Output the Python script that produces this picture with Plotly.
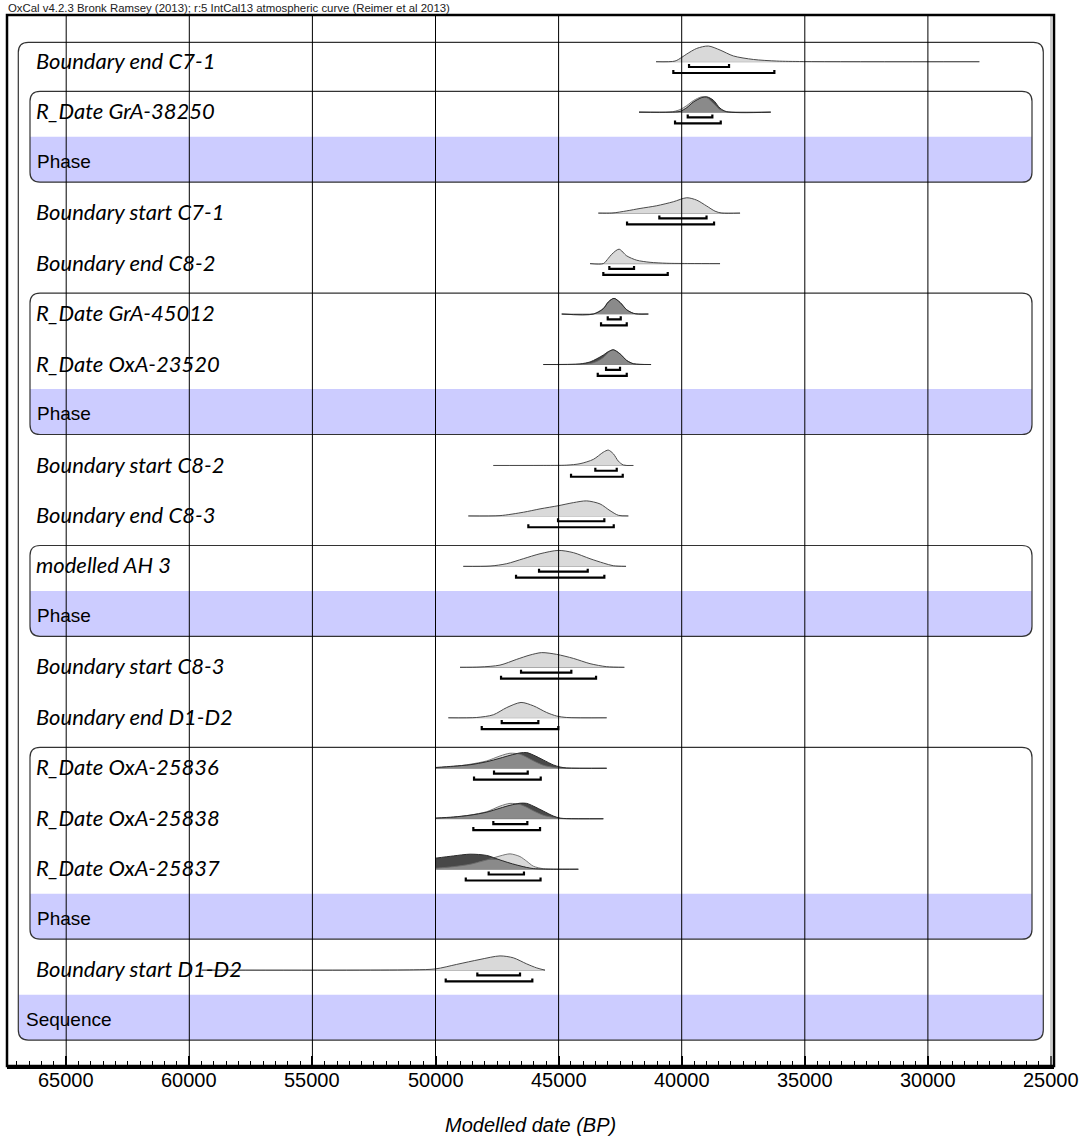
import plotly.graph_objects as go

TITLE = "OxCal v4.2.3 Bronk Ramsey (2013); r:5 IntCal13 atmospheric curve (Reimer et al 2013)"
AXIS_TITLE = "Modelled date (BP)"

row_labels = [
    "Boundary end C7-1", "R_Date GrA-38250", "Phase",
    "Boundary start C7-1", "Boundary end C8-2",
    "R_Date GrA-45012", "R_Date OxA-23520", "Phase",
    "Boundary start C8-2", "Boundary end C8-3",
    "modelled AH 3", "Phase",
    "Boundary start C8-3", "Boundary end D1-D2",
    "R_Date OxA-25836", "R_Date OxA-25838", "R_Date OxA-25837", "Phase",
    "Boundary start D1-D2", "Sequence",
]
tick_years = [65000, 60000, 55000, 50000, 45000, 40000, 35000, 30000, 25000]

# phases as (first row, last row); the last row carries the "Phase" label
phase_rows = [(1, 2), (5, 7), (10, 11), (14, 17)]
sequence_rows = (0, 19)

# ---- probability distributions (years BP, relative probability) ----
# Boundary end C7-1
end_c71_yr = [41042, 40271, 39998, 39795, 39389, 38918, 38443, 37902, 37090, 36139, 35059, 27910]
end_c71_p = [0, 0.04, 0.27, 0.48, 0.83, 0.98, 0.73, 0.36, 0.14, 0.04, 0.01, 0]
end_c71_r68 = [39702, 38077]
end_c71_r95 = [40340, 36237]

# R_Date GrA-38250 (unmodelled likelihood / modelled posterior)
gra38250_yr = [41733, 40474, 40068, 39796, 39527, 39186, 38983, 38715, 38443, 38171, 36383]
gra38250_unmod = [0, 0, 0.16, 0.41, 0.72, 0.96, 0.91, 0.56, 0.16, 0.02, 0]
gra38250_mod = [0, 0, 0.05, 0.28, 0.63, 0.91, 0.96, 0.75, 0.25, 0.03, 0]
gra38250_r68 = [39755, 38755]
gra38250_r95 = [40271, 38414]

# Boundary start C7-1
start_c71_yr = [43386, 42842, 42232, 41692, 41014, 40339, 39795, 39389, 38983, 38645, 38373, 37630]
start_c71_p = [0, 0, 0.14, 0.29, 0.46, 0.71, 0.96, 0.81, 0.44, 0.12, 0, 0]
start_c71_r68 = [40908, 38991]
start_c71_r95 = [42220, 38686]

# Boundary end C8-2
end_c82_yr = [43723, 43183, 42980, 42842, 42546, 42232, 41826, 41286, 40608, 39661, 38443]
end_c82_p = [0, 0, 0.33, 0.58, 0.9, 0.48, 0.21, 0.08, 0.02, 0.005, 0]
end_c82_r68 = [42939, 41936]
end_c82_r95 = [43183, 40567]

# R_Date GrA-45012
gra45012_yr = [44873, 43589, 43183, 42980, 42749, 42505, 42232, 41964, 41761, 41355]
gra45012_unmod = [0, 0, 0.36, 0.77, 0.98, 0.71, 0.25, 0.04, 0, 0]
gra45012_mod = [0, 0, 0.33, 0.75, 0.98, 0.73, 0.27, 0.05, 0, 0]
gra45012_r68 = [43004, 42476]
gra45012_r95 = [43276, 42232]

# R_Date OxA-23520
oxa23520_yr = [45620, 44130, 43723, 43451, 43183, 42980, 42777, 42505, 42232, 41964, 41692, 41245]
oxa23520_unmod = [0, 0.01, 0.06, 0.19, 0.44, 0.75, 0.92, 0.66, 0.25, 0.05, 0.01, 0]
oxa23520_mod = [0, 0.04, 0.16, 0.36, 0.59, 0.81, 0.92, 0.67, 0.25, 0.05, 0.01, 0]
oxa23520_r68 = [43073, 42505]
oxa23520_r95 = [43410, 42232]

# Boundary start C8-2
start_c82_yr = [47651, 45754, 44670, 44130, 43589, 43183, 42980, 42777, 42574, 42371, 41964]
start_c82_p = [0, 0.003, 0.02, 0.11, 0.38, 0.83, 0.96, 0.73, 0.27, 0.03, 0]
start_c82_r68 = [43508, 42639]
start_c82_r95 = [44495, 42395]

# Boundary end C8-3
end_c83_yr = [48667, 47379, 46433, 45754, 45011, 44402, 43858, 43317, 42911, 42574, 42167]
end_c83_p = [0, 0.02, 0.23, 0.44, 0.64, 0.83, 0.94, 0.75, 0.33, 0.04, 0]
end_c83_r68 = [45023, 43142]
end_c83_r95 = [46229, 42760]

# modelled AH 3
ah3_yr = [48870, 47785, 47107, 46433, 45754, 45011, 44402, 43723, 43183, 42777, 42261]
ah3_p = [0, 0.02, 0.17, 0.48, 0.79, 1.0, 0.86, 0.48, 0.21, 0.04, 0]
ah3_r68 = [45795, 43817]
ah3_r95 = [46729, 43142]

# Boundary start C8-3
start_c83_yr = [49004, 48192, 47379, 46701, 46161, 45686, 45077, 44402, 43723, 43047, 42330]
start_c83_p = [0, 0.02, 0.14, 0.5, 0.77, 0.92, 0.81, 0.56, 0.23, 0.04, 0]
start_c83_r68 = [46526, 44483]
start_c83_r95 = [47338, 43479]

# Boundary end D1-D2
end_d12_yr = [49479, 48326, 47651, 47107, 46526, 46026, 45482, 45077, 44670, 43047]
end_d12_p = [0, 0.02, 0.19, 0.64, 0.96, 0.75, 0.33, 0.11, 0.02, 0]
end_d12_r68 = [47310, 45823]
end_d12_r95 = [48122, 45011]

# R_Date OxA-25836
oxa25836_yr = [50000, 49276, 48597, 47920, 47379, 46973, 46567, 46295, 46026, 45620, 45214, 44942, 44670, 43047]
oxa25836_unmod = [0.02, 0.11, 0.25, 0.46, 0.77, 0.94, 0.88, 0.69, 0.47, 0.19, 0.06, 0.02, 0, 0]
oxa25836_mod = [0.05, 0.13, 0.22, 0.41, 0.63, 0.81, 0.96, 0.98, 0.83, 0.52, 0.21, 0.08, 0.02, 0]
oxa25836_r68 = [47623, 46254]
oxa25836_r95 = [48435, 45726]

# R_Date OxA-25838
oxa25838_yr = [50000, 49276, 48597, 47920, 47379, 46973, 46567, 46295, 46026, 45620, 45214, 44942, 44670, 43183]
oxa25838_unmod = [0.03, 0.09, 0.23, 0.44, 0.79, 0.96, 0.89, 0.72, 0.5, 0.22, 0.08, 0.02, 0, 0]
oxa25838_mod = [0.04, 0.11, 0.22, 0.41, 0.66, 0.84, 0.97, 0.96, 0.79, 0.48, 0.17, 0.04, 0.01, 0]
oxa25838_r68 = [47651, 46270]
oxa25838_r95 = [48463, 45754]

# R_Date OxA-25837
oxa25837_yr = [50000, 49276, 48597, 47920, 47379, 46973, 46567, 46295, 46026, 45620, 45214, 44198]
oxa25837_unmod = [0.06, 0.16, 0.31, 0.58, 0.83, 0.96, 0.79, 0.5, 0.19, 0.03, 0, 0]
oxa25837_mod = [0.69, 0.83, 0.94, 0.86, 0.58, 0.38, 0.21, 0.11, 0.04, 0.01, 0, 0]
oxa25837_r68 = [47840, 46407]
oxa25837_r95 = [48770, 45733]

# Boundary start D1-D2
start_d12_yr = [59500, 50900, 49991, 49138, 48192, 47379, 46838, 46295, 45889, 45551]
start_d12_p = [0, 0.02, 0.08, 0.36, 0.67, 0.89, 0.77, 0.39, 0.14, 0]
start_d12_r68 = [48301, 46567]
start_d12_r95 = [49585, 46067]

# row index -> (years, single/unmodelled, modelled or None, 68.2% range, 95.4% range)
rows = {
    0: (end_c71_yr, end_c71_p, None, end_c71_r68, end_c71_r95),
    1: (gra38250_yr, gra38250_unmod, gra38250_mod, gra38250_r68, gra38250_r95),
    3: (start_c71_yr, start_c71_p, None, start_c71_r68, start_c71_r95),
    4: (end_c82_yr, end_c82_p, None, end_c82_r68, end_c82_r95),
    5: (gra45012_yr, gra45012_unmod, gra45012_mod, gra45012_r68, gra45012_r95),
    6: (oxa23520_yr, oxa23520_unmod, oxa23520_mod, oxa23520_r68, oxa23520_r95),
    8: (start_c82_yr, start_c82_p, None, start_c82_r68, start_c82_r95),
    9: (end_c83_yr, end_c83_p, None, end_c83_r68, end_c83_r95),
    10: (ah3_yr, ah3_p, None, ah3_r68, ah3_r95),
    12: (start_c83_yr, start_c83_p, None, start_c83_r68, start_c83_r95),
    13: (end_d12_yr, end_d12_p, None, end_d12_r68, end_d12_r95),
    14: (oxa25836_yr, oxa25836_unmod, oxa25836_mod, oxa25836_r68, oxa25836_r95),
    15: (oxa25838_yr, oxa25838_unmod, oxa25838_mod, oxa25838_r68, oxa25838_r95),
    16: (oxa25837_yr, oxa25837_unmod, oxa25837_mod, oxa25837_r68, oxa25837_r95),
    18: (start_d12_yr, start_d12_p, None, start_d12_r68, start_d12_r95),
}

# ---- page geometry (pixels) ----
W, H = 1083, 1137
ML, MR, MT, MB = 7, 29, 15, 71
PX_65000, PX_PER_5000 = 66.2, 123.1
ROW0_PX, ROW_PX = 61.0, 50.47


def px2yr(px):
    return 65000 - (px - PX_65000) * 5000 / PX_PER_5000


def px2row(px):
    return (px - ROW0_PX) / ROW_PX


X_LEFT, X_RIGHT = px2yr(ML), px2yr(W - MR)
Y_BOTTOM, Y_TOP = px2row(H - MB), px2row(MT)
YR_PER_PX = 5000 / PX_PER_5000

PEAK = 16 / ROW_PX          # height of a full-probability peak, in rows
BASE_OFF = 0.7 / ROW_PX
B68_OFF = 5.3 / ROW_PX
B95_OFF = 11.3 / ROW_PX
TICK_UP = 3.0 / ROW_PX
RX, RY = 10 * YR_PER_PX, 10 / ROW_PX

LIGHT = "#d9d9d9"
DARK = "#484848"
MID = "#8a8a8a"

fig = go.Figure()


def filled(x, top, base, color):
    fig.add_trace(go.Scatter(x=[x[0], x[-1]], y=[base, base], mode="lines",
                             line=dict(width=0), hoverinfo="skip", showlegend=False))
    fig.add_trace(go.Scatter(x=x, y=top, mode="lines", fill="tonexty", fillcolor=color,
                             line=dict(width=0, shape="spline", smoothing=0.8),
                             hoverinfo="skip", showlegend=False))


def outline(x, top, color, width=1):
    fig.add_trace(go.Scatter(x=x, y=top, mode="lines",
                             line=dict(color=color, width=width, shape="spline", smoothing=0.8),
                             hoverinfo="skip", showlegend=False))


def bracket(rng, y):
    a, b = rng
    fig.add_trace(go.Scatter(x=[a, a, b, b], y=[y - TICK_UP, y, y, y - TICK_UP], mode="lines",
                             line=dict(color="black", width=2.2), hoverinfo="skip",
                             showlegend=False))


for i, (yrs, p1, p2, r68, r95) in rows.items():
    base = i + BASE_OFF
    # baseline spanning the distribution
    fig.add_trace(go.Scatter(x=[yrs[0], yrs[-1]], y=[base, base], mode="lines",
                             line=dict(color="#999999", width=1.1), hoverinfo="skip",
                             showlegend=False))
    top1 = [base - v * PEAK for v in p1]
    if p2 is None:
        filled(yrs, top1, base, LIGHT)
        outline(yrs, top1, "#4a4a4a", 1)
    else:
        top2 = [base - v * PEAK for v in p2]
        both = [base - min(a, b) * PEAK for a, b in zip(p1, p2)]
        filled(yrs, top1, base, LIGHT)
        filled(yrs, top2, base, DARK)
        filled(yrs, both, base, MID)
        outline(yrs, top1, "#6a6a6a", 0.9)
        outline(yrs, top2, "#2a2a2a", 1)
    bracket(r68, base + B68_OFF)
    bracket(r95, base + B95_OFF)


def box_path(xl, xr, yt, yb):
    return (f"M {xl - RX},{yt} L {xr + RX},{yt} Q {xr},{yt} {xr},{yt + RY} "
            f"L {xr},{yb - RY} Q {xr},{yb} {xr + RX},{yb} L {xl - RX},{yb} "
            f"Q {xl},{yb} {xl},{yb - RY} L {xl},{yt + RY} Q {xl},{yt} {xl - RX},{yt} Z")


def band_path(xl, xr, yt, yb):
    return (f"M {xl},{yt} L {xr},{yt} L {xr},{yb - RY} Q {xr},{yb} {xr + RX},{yb} "
            f"L {xl - RX},{yb} Q {xl},{yb} {xl},{yb - RY} Z")


shapes = []
SEQ_L, SEQ_R = px2yr(18.3), px2yr(1043.3)
PH_L, PH_R = px2yr(30), px2yr(1032)

groups = [(SEQ_L, SEQ_R, sequence_rows[0] - 0.37, sequence_rows[1] + 0.4, sequence_rows[1])]
for a, b in phase_rows:
    groups.append((PH_L, PH_R, a - 0.4, b + 0.4, b))

for xl, xr, yt, yb, lab_row in groups:
    shapes.append(dict(type="path", path=band_path(xl, xr, lab_row - 0.5, yb),
                       xref="x", yref="y", fillcolor="#ccccff", line=dict(width=0),
                       layer="below"))
for xl, xr, yt, yb, lab_row in groups:
    shapes.append(dict(type="path", path=box_path(xl, xr, yt, yb),
                       xref="x", yref="y", line=dict(color="#333333", width=1.2),
                       layer="below"))

for t in tick_years:
    shapes.append(dict(type="line", x0=t, x1=t, y0=0, y1=1, xref="x", yref="paper",
                       line=dict(color="black" if t != 25000 else "#9a9a9a", width=1),
                       layer="above"))
shapes.append(dict(type="rect", x0=0, x1=1, y0=0, y1=1, xref="paper", yref="paper",
                   line=dict(color="black", width=2.5), layer="above"))

plot_w = W - ML - MR
plot_h = H - MT - MB


def paper_y(px):
    return ((H - MB) - px) / plot_h


annotations = []
for i, lab in enumerate(row_labels):
    if lab == "Phase":
        font = dict(family="Liberation Sans, Arial", size=19, color="black")
        xp = 35
    elif lab == "Sequence":
        font = dict(family="Liberation Sans, Arial", size=19, color="black")
        xp = 24
    else:
        font = dict(family="Lato", size=22, color="black", style="italic")
        xp = 34
    annotations.append(dict(text=lab, x=(xp - ML) / plot_w, y=i - 0.015, xref="paper", yref="y",
                            xanchor="left", yanchor="middle", showarrow=False, font=font))

# tick labels along the date axis
for t in tick_years:
    annotations.append(dict(text=str(t), x=t, y=paper_y(1080), xref="x", yref="paper",
                            xanchor="center", yanchor="middle", showarrow=False,
                            font=dict(family="Liberation Sans, Arial", size=20, color="black")))

annotations.append(dict(text=TITLE, x=(6 - ML) / plot_w, y=paper_y(8),
                        xref="paper", yref="paper", xanchor="left", yanchor="middle",
                        showarrow=False,
                        font=dict(family="Liberation Sans, Arial", size=11.4, color="#222222")))
annotations.append(dict(text=AXIS_TITLE, x=0.5, y=paper_y(1125),
                        xref="paper", yref="paper", xanchor="center", yanchor="middle",
                        showarrow=False,
                        font=dict(family="Liberation Sans, Arial", size=20, color="black",
                                  style="italic")))

fig.update_layout(
    width=W, height=H,
    margin=dict(l=ML, r=MR, t=MT, b=MB, pad=0),
    paper_bgcolor="white", plot_bgcolor="white",
    showlegend=False,
    shapes=shapes,
    annotations=annotations,
    xaxis=dict(
        range=[X_LEFT, X_RIGHT],
        tickmode="array", tickvals=tick_years, showticklabels=False,
        ticks="inside", ticklen=10, tickwidth=2, tickcolor="black",
        showgrid=False, zeroline=False,
        showline=True, linecolor="black", linewidth=2.5,
        minor=dict(ticks="inside", ticklen=5, tickwidth=1, tickcolor="black",
                   dtick=500, tick0=0, showgrid=False),
    ),
    yaxis=dict(range=[Y_BOTTOM, Y_TOP], visible=False),
)

fig.write_html("out.html")
